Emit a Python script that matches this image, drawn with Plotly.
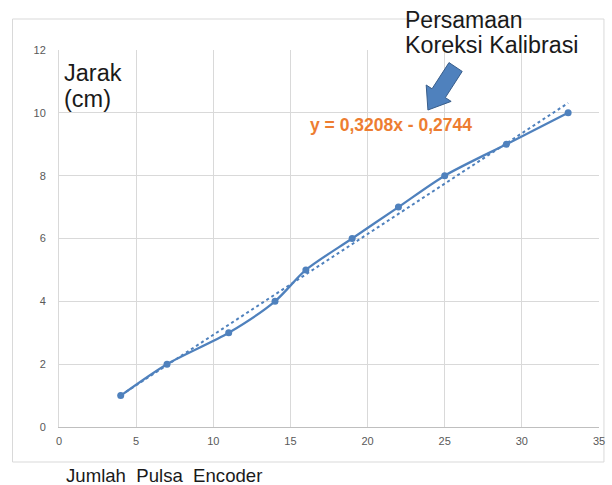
import plotly.graph_objects as go

pulses = [4, 7, 11, 14, 16, 19, 22, 25, 29, 33]
distance_cm = [1, 2, 3, 4, 5, 6, 7, 8, 9, 10]
slope = 0.3208
intercept = -0.2744
x_ticks = [0, 5, 10, 15, 20, 25, 30, 35]
y_ticks = [0, 2, 4, 6, 8, 10, 12]

W, H = 612, 485
L, R, T, B = 59, 7, 50, 58
pw, ph = W - L - R, H - T - B

def px(x):
    return (x - L) / pw

def py(y):
    return (H - B - y) / ph

trend_x = [pulses[0], pulses[-1]]
trend_y = [slope * v + intercept for v in trend_x]

blue = "#4F81BD"
dark = "#1a1a1a"

fig = go.Figure()
fig.add_trace(go.Scatter(x=trend_x, y=trend_y, mode="lines",
                         line=dict(color=blue, width=2, dash="dot"),
                         showlegend=False, hoverinfo="skip"))
fig.add_trace(go.Scatter(x=pulses, y=distance_cm, mode="lines+markers",
                         line=dict(color=blue, width=2.25, shape="spline", smoothing=0.8),
                         marker=dict(color=blue, size=7),
                         showlegend=False))

# block arrow (decoration)
arrow_px = [(466.7, 71.4), (453.3, 62.6), (436.2, 88.8), (430.3, 85.0),
            (432.0, 110.0), (455.5, 101.4), (449.6, 97.6)]
path = "M " + " L ".join(f"{px(a):.4f},{py(b):.4f}" for a, b in arrow_px) + " Z"

def label(text, x, y, size, color=dark):
    return dict(text=text, xref="paper", yref="paper", x=px(x), y=py(y),
                xanchor="left", yanchor="middle", align="left", showarrow=False,
                font=dict(size=size, color=color))

fig.update_layout(
    width=W, height=H, autosize=False,
    margin=dict(l=L, r=R, t=T, b=B),
    paper_bgcolor="white", plot_bgcolor="white",
    font=dict(family="Liberation Sans, Arial, sans-serif", color="#595959"),
    xaxis=dict(range=[0, 35], tickvals=x_ticks, showgrid=True, gridcolor="#D9D9D9",
               gridwidth=1, zeroline=False, showline=True, linecolor="#BFBFBF",
               linewidth=1, ticks="", tickfont=dict(size=11, color="#595959"),
               ticklabelstandoff=4),
    yaxis=dict(range=[0, 12], tickvals=y_ticks, showgrid=True, gridcolor="#D9D9D9",
               gridwidth=1, zeroline=False, showline=True, linecolor="#D9D9D9",
               linewidth=1, ticks="", tickfont=dict(size=11, color="#595959"),
               ticklabelstandoff=10),
    shapes=[
        dict(type="rect", xref="paper", yref="paper",
             x0=px(12), x1=px(610), y0=py(462), y1=py(19),
             line=dict(color="#D9D9D9", width=1), fillcolor="rgba(0,0,0,0)", layer="below"),
        dict(type="path", xref="paper", yref="paper", path=path,
             fillcolor=blue, line=dict(color="#385D8A", width=1)),
    ],
    annotations=[
        label("Jarak", 62, 73.5, 23.5),
        label("(cm)", 62, 98.5, 23.5),
        label("Persamaan", 407, 20.5, 23),
        label("Koreksi Kalibrasi", 407, 45.5, 23.3),
        label("<b>y = 0,3208x - 0,2744</b>", 311, 125, 17.5, "#ED7D31"),
        label("Jumlah  Pulsa  Encoder", 64, 475, 18.6),
    ],
)

fig.write_html("out.html",
               config=dict(displayModeBar=False, responsive=False),
               post_script="document.body.style.margin='0';document.body.style.overflow='hidden';")
